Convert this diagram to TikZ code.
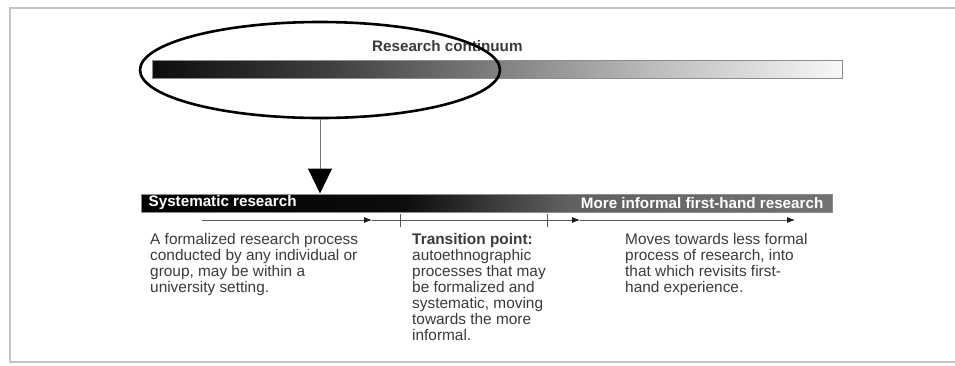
\documentclass[tikz,border=0pt]{standalone}
\usepackage{fontspec}
\setmainfont{Liberation Sans}
\usetikzlibrary{positioning,shapes.geometric,arrows.meta}

\definecolor{ink}{HTML}{3A3A3A}
\definecolor{frame}{HTML}{C4C4C4}
\pgfdeclarehorizontalshading{upperbar}{100bp}{color(0bp)=(black); color(25bp)=(black!95); color(38bp)=(black!75); color(50bp)=(black!50); color(62bp)=(black!25); color(75bp)=(black!3); color(100bp)=(black!3)}
\pgfdeclarehorizontalshading{lowerbar}{100bp}{color(0bp)=(black); color(25bp)=(black); color(44bp)=(black!95); color(56bp)=(black!62); color(75bp)=(black!55); color(100bp)=(black!55)}

\begin{document}
\begin{tikzpicture}[x=1pt,y=-1pt,
  bar/.style={draw=black!45,line width=1pt,rectangle,inner sep=0pt,minimum height=18pt},
  heading/.style={font=\fontsize{15.2}{16}\selectfont\bfseries,text=ink,inner sep=0pt},
  barlabel/.style={font=\fontsize{15.2}{16}\selectfont\bfseries,text=white,inner sep=0pt},
  body/.style={font=\fontsize{15.4}{16}\selectfont,text=ink,align=left,inner sep=0pt},
  flow/.style={draw=black!65,line width=.8pt,-{Latex[length=8pt,width=6pt,color=black!90]}},
  tick/.style={draw=black!65,line width=.8pt}]
\useasboundingbox (0,0) rectangle (955,365);
% frame
\draw[frame,line width=2pt] (955,8) -- (10,8) -- (10,362) -- (955,362);
% the continuum
\node[bar,shading=upperbar,minimum width=690pt] (continuum) at (497,69) {};
\node[heading,anchor=base west] (title) at (372,51) {Research continuum};
\node[draw,line width=2.6pt,ellipse,minimum width=360pt,minimum height=96pt] (focus) at (320,70) {};
% the zoomed range
\node[bar,shading=lowerbar,minimum width=691pt] (range) at (486.5,203) {};
\node[barlabel,anchor=west] (systematic) at ([xshift=8pt]range.west) {Systematic research};
\node[barlabel,anchor=east] (informal) at ([xshift=-9pt]range.east) {More informal first-hand research};
\draw[draw=black!55,line width=1pt,-{Triangle[length=25pt,width=24pt,color=black]}] (focus.south) -- (focus.south |- range.north);
% the line below
\foreach \n/\x in {s0/202,s1/372,s2/580,s3/795} {
  \coordinate (\n) at (\x,220);
}
\foreach \a/\b in {s0/s1,s1/s2,s2/s3} {
  \draw[flow] (\a) -- (\b);
}
\foreach \x in {400,547} {
  \draw[tick] (\x,214) -- (\x,227);
}
% the three notes
\node[body,anchor=north west] (formal) at (150,233) {A formalized research process\\conducted by any individual or\\group, may be within a\\university setting.};
\node[body,anchor=north west] (transition) at (412,233) {\textbf{Transition point:}\\autoethnographic\\processes that may\\be formalized and\\systematic, moving\\towards the more\\informal.};
\node[body,anchor=north west] (firsthand) at (625,233) {Moves towards less formal\\process of research, into\\that which revisits first-\\hand experience.};
\end{tikzpicture}
\end{document}
